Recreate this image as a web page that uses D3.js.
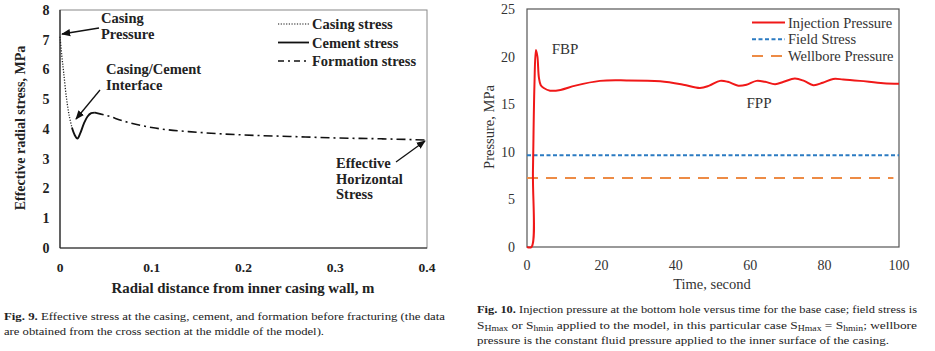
<!DOCTYPE html>
<html>
<head>
<meta charset="utf-8">
<script src="https://cdn.jsdelivr.net/npm/d3@7"></script>
<style>
  body { margin: 0; background: #fff; }
  svg { display: block; }
  text { font-family: "Liberation Serif", "Times New Roman", serif; }
</style>
</head>
<body>
<svg id="fig" width="935" height="351"></svg>
<script>
// ---- Fig. 9 data: effective radial stress vs radial distance ----
const casingStress = [[0, 7.1], [0.002, 6.45], [0.004, 5.9], [0.007, 5.05], [0.010, 4.45], [0.013, 4.05]];
const cementStress = [[0.013, 4.05], [0.016, 3.8], [0.019, 3.68], [0.022, 3.85], [0.026, 4.18], [0.030, 4.42], [0.034, 4.53], [0.038, 4.55]];
const formationStress = [[0.038, 4.55], [0.05, 4.46], [0.07, 4.26], [0.1, 4.05], [0.15, 3.89], [0.2, 3.8], [0.25, 3.75], [0.3, 3.7], [0.35, 3.67], [0.4, 3.63]];
const fig9XTicks = [0, 0.1, 0.2, 0.3, 0.4];
const fig9YTicks = [0, 1, 2, 3, 4, 5, 6, 7, 8];

// ---- Fig. 10 data: injection pressure vs time ----
const injectionPressure = [
  [0, 0], [1.2, 0], [1.6, 8], [2.0, 17], [2.4, 20.7], [2.8, 20.0], [3.2, 17.8], [3.7, 17.0],
  [4.5, 16.7], [6.2, 16.42], [9, 16.5], [13, 16.95], [19.6, 17.45], [26.8, 17.5], [35.8, 17.4],
  [42, 17.05], [46.5, 16.7], [49, 16.95], [51.9, 17.45], [54, 17.35], [56.8, 16.95], [59, 17.05],
  [61.7, 17.45], [64, 17.35], [66.7, 17.1], [69, 17.35], [72, 17.7], [74.5, 17.45], [77, 17.0],
  [79.5, 17.25], [82.3, 17.65], [85, 17.6], [89.5, 17.45], [95.8, 17.2], [100, 17.15]
];
const fieldStress = [[0, 9.65], [100, 9.65]];
const wellborePressure = [[0, 7.25], [98.5, 7.25]];
const fig10XTicks = [0, 20, 40, 60, 80, 100];
const fig10YTicks = [0, 5, 10, 15, 20, 25];

const svg = d3.select("#fig");

// ================= Fig. 9 =================
const g9 = svg.append("g");
const x9 = d3.scaleLinear().domain([0, 0.4]).range([60, 427]);
const y9 = d3.scaleLinear().domain([0, 8]).range([248, 10]);

// plot frame
g9.append("rect").attr("x", 60).attr("y", 10).attr("width", 367).attr("height", 238)
  .attr("fill", "none").attr("stroke", "#888").attr("stroke-width", 1);
g9.append("line").attr("x1", 60).attr("x2", 60).attr("y1", 10).attr("y2", 248).attr("stroke", "#222").attr("stroke-width", 1.2);
g9.append("line").attr("x1", 60).attr("x2", 427).attr("y1", 248).attr("y2", 248).attr("stroke", "#222").attr("stroke-width", 1.2);

// tick labels
g9.selectAll(".xt").data(fig9XTicks).join("text")
  .attr("x", d => x9(d)).attr("y", 272).attr("text-anchor", "middle")
  .attr("font-size", 13.5).attr("font-weight", "bold").attr("fill", "#222")
  .text(d => d === 0 ? "0" : d3.format(".1f")(d));
g9.selectAll(".yt").data(fig9YTicks).join("text")
  .attr("x", 46).attr("y", d => y9(d) + 4.8).attr("text-anchor", "middle")
  .attr("font-size", 14).attr("font-weight", "bold").attr("fill", "#222")
  .text(d => d);

// axis titles
g9.append("text").attr("x", 243).attr("y", 293).attr("text-anchor", "middle")
  .attr("font-size", 14.5).attr("font-weight", "bold").attr("fill", "#222")
  .attr("textLength", 263).attr("lengthAdjust", "spacingAndGlyphs")
  .text("Radial distance  from inner casing wall, m");
g9.append("text").attr("transform", "translate(25,128) rotate(-90)").attr("text-anchor", "middle")
  .attr("font-size", 14).attr("font-weight", "bold").attr("fill", "#222")
  .text("Effective radial stress, MPa");

const line9 = d3.line().x(d => x9(d[0])).y(d => y9(d[1])).curve(d3.curveMonotoneX);
const line9c = d3.line().x(d => x9(d[0])).y(d => y9(d[1])).curve(d3.curveCatmullRom);

g9.append("path").datum(casingStress).attr("d", line9c)
  .attr("fill", "none").attr("stroke", "#222").attr("stroke-width", 1.3).attr("stroke-dasharray", "1.2,1.5");
g9.append("path").datum(cementStress).attr("d", line9c)
  .attr("fill", "none").attr("stroke", "#111").attr("stroke-width", 1.9);
g9.append("path").datum(formationStress).attr("d", line9)
  .attr("fill", "none").attr("stroke", "#111").attr("stroke-width", 1.6).attr("stroke-dasharray", "9,4,2,4");

// legend
const leg9 = [
  { name: "Casing stress", dash: "1.2,1.5", w: 1.2 },
  { name: "Cement stress", dash: null, w: 1.8 },
  { name: "Formation stress", dash: "6,4,2,4", w: 1.6 }
];
leg9.forEach((d, i) => {
  const yy = 24 + i * 18.5;
  g9.append("line").attr("x1", 278).attr("x2", 309).attr("y1", yy).attr("y2", yy)
    .attr("stroke", "#111").attr("stroke-width", d.w).attr("stroke-dasharray", d.dash);
  g9.append("text").attr("x", 312).attr("y", yy + 5).attr("font-size", 14.5)
    .attr("font-weight", "bold").attr("fill", "#222").text(d.name);
});

// annotations with arrows
const defs = svg.append("defs");
defs.append("marker").attr("id", "ah").attr("viewBox", "0 0 10 10").attr("refX", 9).attr("refY", 5)
  .attr("markerWidth", 7).attr("markerHeight", 7).attr("orient", "auto")
  .append("path").attr("d", "M0,1 L10,5 L0,9 z").attr("fill", "#111");

function note(lines, x, y0, step) {
  lines.forEach((t, i) => g9.append("text").attr("x", x).attr("y", y0 + i * step)
    .attr("font-size", 14.5).attr("font-weight", "bold").attr("fill", "#222").text(t));
}
function arrow(x1, y1, x2, y2) {
  g9.append("line").attr("x1", x1).attr("y1", y1).attr("x2", x2).attr("y2", y2)
    .attr("stroke", "#111").attr("stroke-width", 1.3).attr("marker-end", "url(#ah)");
}
note(["Casing", "Pressure"], 101, 23, 16);
arrow(99, 28, 62, 34);
note(["Casing/Cement", "Interface"], 106, 74, 16);
arrow(100, 90, 76, 119);
note(["Effective", "Horizontal", "Stress"], 336, 168, 15.5);
arrow(396, 162, 425, 141);

// ================= Fig. 10 =================
const g10 = svg.append("g");
const x10 = d3.scaleLinear().domain([0, 100]).range([527, 899]);
const y10 = d3.scaleLinear().domain([0, 25]).range([247, 9]);

g10.append("rect").attr("x", 527).attr("y", 9).attr("width", 372).attr("height", 238)
  .attr("fill", "none").attr("stroke", "#555").attr("stroke-width", 1.2);

g10.selectAll(".xt").data(fig10XTicks).join("text")
  .attr("x", d => x10(d)).attr("y", 270).attr("text-anchor", "middle")
  .attr("font-size", 14).attr("fill", "#333").text(d => d);
g10.selectAll(".yt").data(fig10YTicks).join("text")
  .attr("x", 515).attr("y", d => y10(d) + 5).attr("text-anchor", "end")
  .attr("font-size", 14).attr("fill", "#333").text(d => d);

g10.append("text").attr("x", 712).attr("y", 289).attr("text-anchor", "middle")
  .attr("font-size", 14.5).attr("fill", "#333").text("Time, second");
g10.append("text").attr("transform", "translate(494,127) rotate(-90)").attr("text-anchor", "middle")
  .attr("font-size", 14.5).attr("fill", "#333").text("Pressure, MPa");

const line10 = d3.line().x(d => x10(d[0])).y(d => y10(d[1]));
g10.append("path").datum(wellborePressure).attr("d", line10)
  .attr("fill", "none").attr("stroke", "#ED8B45").attr("stroke-width", 2).attr("stroke-dasharray", "11,8");
g10.append("path").datum(fieldStress).attr("d", line10)
  .attr("fill", "none").attr("stroke", "#2B7BC2").attr("stroke-width", 2).attr("stroke-dasharray", "4,2.5");
g10.append("path").datum(injectionPressure).attr("d", line10.curve(d3.curveCatmullRom))
  .attr("fill", "none").attr("stroke", "#F01818").attr("stroke-width", 2);

const leg10 = [
  { name: "Injection Pressure", color: "#F01818", dash: null },
  { name: "Field Stress", color: "#2B7BC2", dash: "4,2.5" },
  { name: "Wellbore Pressure", color: "#ED8B45", dash: "11,8" }
];
leg10.forEach((d, i) => {
  const yy = 22.5 + i * 16.7;
  g10.append("line").attr("x1", 752).attr("x2", 785).attr("y1", yy).attr("y2", yy)
    .attr("stroke", d.color).attr("stroke-width", 2).attr("stroke-dasharray", d.dash);
  g10.append("text").attr("x", 788).attr("y", yy + 5).attr("font-size", 14.5)
    .attr("fill", "#333").text(d.name);
});

g10.append("text").attr("x", 565).attr("y", 54).attr("text-anchor", "middle")
  .attr("font-size", 15).attr("fill", "#333").text("FBP");
g10.append("text").attr("x", 759).attr("y", 108).attr("text-anchor", "middle")
  .attr("font-size", 15).attr("fill", "#333").text("FPP");

// ================= captions =================
const cap = svg.append("g").attr("font-size", 11).attr("fill", "#222");
const c9 = cap.append("text").attr("x", 4).attr("y", 320);
c9.append("tspan").attr("font-weight", "bold").text("Fig. 9. ");
c9.append("tspan").text("Effective stress at the casing, cement, and formation before fracturing (the data");
c9.attr("textLength", 441).attr("lengthAdjust", "spacingAndGlyphs");
cap.append("text").attr("x", 4).attr("y", 335).attr("textLength", 320).attr("lengthAdjust", "spacingAndGlyphs")
  .text("are obtained from the cross section at the middle of the model).");

const c10a = cap.append("text").attr("x", 477).attr("y", 313).attr("textLength", 440).attr("lengthAdjust", "spacingAndGlyphs");
c10a.append("tspan").attr("font-weight", "bold").text("Fig. 10. ");
c10a.append("tspan").text("Injection pressure at the bottom hole versus time for the base case; field stress is");

const c10b = cap.append("text").attr("x", 477).attr("y", 329).attr("textLength", 440).attr("lengthAdjust", "spacingAndGlyphs");
c10b.append("tspan").text("S");
c10b.append("tspan").attr("font-size", 8).attr("dy", 2).text("Hmax");
c10b.append("tspan").attr("dy", -2).text(" or S");
c10b.append("tspan").attr("font-size", 8).attr("dy", 2).text("hmin");
c10b.append("tspan").attr("dy", -2).text(" applied to the model, in this particular case S");
c10b.append("tspan").attr("font-size", 8).attr("dy", 2).text("Hmax");
c10b.append("tspan").attr("dy", -2).text(" = S");
c10b.append("tspan").attr("font-size", 8).attr("dy", 2).text("hmin");
c10b.append("tspan").attr("dy", -2).text("; wellbore");

cap.append("text").attr("x", 477).attr("y", 344).attr("textLength", 412).attr("lengthAdjust", "spacingAndGlyphs")
  .text("pressure is the constant fluid pressure applied to the inner surface of the casing.");
</script>
</body>
</html>
